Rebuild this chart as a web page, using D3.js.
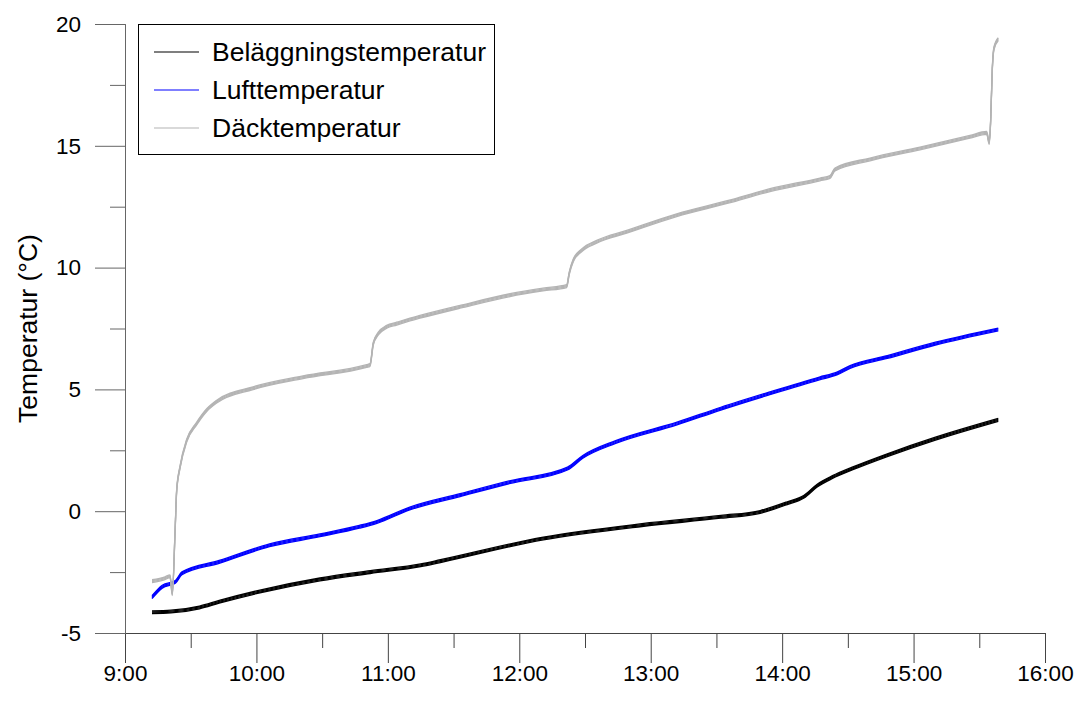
<!DOCTYPE html>
<html>
<head>
<meta charset="utf-8">
<script src="https://cdn.jsdelivr.net/npm/d3@7"></script>
<style>
  html, body { margin: 0; padding: 0; background: #fff; }
  svg { display: block; font-family: "Liberation Sans", Arial, sans-serif; }
</style>
</head>
<body>
<svg id="chart" width="1079" height="707"></svg>
<script>
// ---------------- data ----------------
const seriesNames = ["Beläggningstemperatur", "Lufttemperatur", "Däcktemperatur"];
const seriesColors = ["#000000", "#0000ff", "#b4b4b4"];

const belaggTimes = ["9:12:20","9:21:00","9:34:00","9:43:00","10:00:00","10:29:00","10:52:00","11:15:00","11:24:00","12:11:00","12:56:00","13:32:00","13:50:00","14:02:00","14:10:00","14:16:00","14:23:00","14:32:00","14:48:00","15:10:00","15:38:40"];
const belaggValues = [-4.15,-4.12,-3.95,-3.72,-3.33,-2.8,-2.5,-2.22,-2.05,-1.12,-0.57,-0.23,-0.03,0.32,0.6,1.05,1.4,1.75,2.3,2.98,3.75];

const luftTimes = ["9:12:20","9:17:00","9:23:00","9:26:00","9:43:00","10:06:00","10:29:00","10:47:00","10:55:00","11:10:00","11:33:00","11:56:00","12:22:00","12:29:00","12:44:00","13:12:00","13:32:00","13:54:00","14:17:00","14:25:00","14:31:00","14:48:00","15:10:00","15:38:40"];
const luftValues = [-3.53,-3.1,-2.9,-2.55,-2.08,-1.4,-0.99,-0.64,-0.44,0.11,0.66,1.2,1.75,2.23,2.84,3.6,4.21,4.83,5.45,5.65,5.92,6.33,6.88,7.46];

const dackTimes = ["9:12:20","9:18:16","9:20:33","9:21:36","9:22:50","9:23:36","9:25:06","9:28:10","9:32:44","9:37:18","9:41:52","9:58:26","10:21:15","10:50:20","10:51:51","10:53:21","10:55:38","10:59:28","11:04:02","11:10:06","11:14:40","11:32:56","11:55:45","12:10:49","12:21:38","12:22:49","12:24:39","12:28:29","12:35:20","12:49:02","13:11:51","13:35:24","13:54:27","14:17:16","14:21:50","14:24:07","14:40:06","15:02:55","15:25:45","15:33:22","15:34:33","15:35:12","15:35:55","15:36:42","15:38:40"];
const dackValues = [-2.87,-2.75,-2.67,-3.41,-0.9,0.86,1.8,2.9,3.6,4.15,4.5,5.05,5.5,5.96,6.0,6.88,7.29,7.57,7.7,7.87,7.98,8.39,8.87,9.1,9.24,9.77,10.3,10.71,11.06,11.47,12.15,12.7,13.18,13.62,13.72,14.03,14.44,14.89,15.37,15.53,15.12,16.05,18.1,19.0,19.38];

const xMajorTicks = ["9:00","10:00","11:00","12:00","13:00","14:00","15:00","16:00"];
const xMinorTicks = ["9:30","10:30","11:30","12:30","13:30","14:30","15:30"];
const yMajorTicks = [-5, 0, 5, 10, 15, 20];
const yMinorTicks = [-2.5, 2.5, 7.5, 12.5, 17.5];
const yLabel = "Temperatur (°C)";

// ---------------- chart ----------------
(function () {
const parseHMS = d3.timeParse("%Y-%m-%d %H:%M:%S");
const parseHM = d3.timeParse("%Y-%m-%d %H:%M");
const tOf = s => (s.split(":").length === 3 ? parseHMS("2000-01-01 " + s) : parseHM("2000-01-01 " + s));

const svg = d3.select("#chart");
const pL = 125, pR = 1045, pT = 24, pB = 633;

const x = d3.scaleTime().domain([tOf("9:00"), tOf("16:00")]).range([pL, pR]);
const y = d3.scaleLinear().domain([-5, 20]).range([pB, pT]);

const series = [
  { name: seriesNames[0], color: seriesColors[0], pts: belaggTimes.map((t, i) => [tOf(t), belaggValues[i]]) },
  { name: seriesNames[1], color: seriesColors[1], pts: luftTimes.map((t, i) => [tOf(t), luftValues[i]]) },
  { name: seriesNames[2], color: seriesColors[2], pts: dackTimes.map((t, i) => [tOf(t), dackValues[i]]) }
];

const line = d3.line().curve(d3.curveMonotoneX).x(d => x(d[0])).y(d => y(d[1]));

// Lines (a thin band of stacked strokes to mimic the dense measurement trace)
const offsets = [-1.4, -0.5, 0.5, 1.4];
series.forEach(s => {
  const g = svg.append("g");
  offsets.forEach(o => {
    g.append("path")
      .datum(s.pts)
      .attr("transform", `translate(0,${o})`)
      .attr("fill", "none")
      .attr("stroke", s.color)
      .attr("stroke-width", 1.3)
      .attr("stroke-linejoin", "round")
      .attr("d", line);
  });
});

// Axes
const fmt = d3.timeFormat("%-H:%M");
const xAxisMajor = d3.axisBottom(x).tickValues(xMajorTicks.map(tOf)).tickFormat(fmt).tickSize(30).tickPadding(2);
const xAxisMinor = d3.axisBottom(x).tickValues(xMinorTicks.map(tOf)).tickFormat("").tickSize(15);
const yAxisMajor = d3.axisLeft(y).tickValues(yMajorTicks).tickFormat(d => String(d)).tickSize(30).tickPadding(14);
const yAxisMinor = d3.axisLeft(y).tickValues(yMinorTicks).tickFormat("").tickSize(15);

function styleAxis(g, col) {
  g.select(".domain").attr("stroke", col);
  g.selectAll(".tick line").attr("stroke", col);
  g.selectAll("text").attr("fill", "#000").attr("font-size", 22.5)
    .attr("font-family", '"Liberation Sans", Arial, sans-serif');
}

svg.append("g").attr("transform", `translate(0,${pB})`).call(xAxisMinor).call(g => styleAxis(g, "#444"));
svg.append("g").attr("transform", `translate(0,${pB})`).call(xAxisMajor).call(g => styleAxis(g, "#444"));
svg.append("g").attr("transform", `translate(${pL},0)`).call(yAxisMinor).call(g => styleAxis(g, "#666"));
svg.append("g").attr("transform", `translate(${pL},0)`).call(yAxisMajor).call(g => styleAxis(g, "#666"));

// Y label
svg.append("text")
  .attr("transform", `translate(${30},${(pT + pB) / 2}) rotate(-90)`)
  .attr("text-anchor", "middle")
  .attr("dominant-baseline", "middle")
  .attr("font-size", 26.5)
  .attr("fill", "#000")
  .text(yLabel);

// Legend
const lg = svg.append("g");
lg.append("rect")
  .attr("x", 138.5).attr("y", 24.5).attr("width", 356).attr("height", 130)
  .attr("fill", "#fff").attr("stroke", "#000").attr("stroke-width", 1);
const rowY = [52, 90, 128];
series.forEach((s, i) => {
  lg.append("line")
    .attr("x1", 154).attr("x2", 199)
    .attr("y1", rowY[i]).attr("y2", rowY[i])
    .attr("stroke", s.color).attr("stroke-width", 1.2);
  lg.append("text")
    .attr("x", 212).attr("y", rowY[i])
    .attr("dominant-baseline", "central")
    .attr("font-size", 26.5)
    .attr("fill", "#000")
    .text(s.name);
});
})();
</script>
</body>
</html>
